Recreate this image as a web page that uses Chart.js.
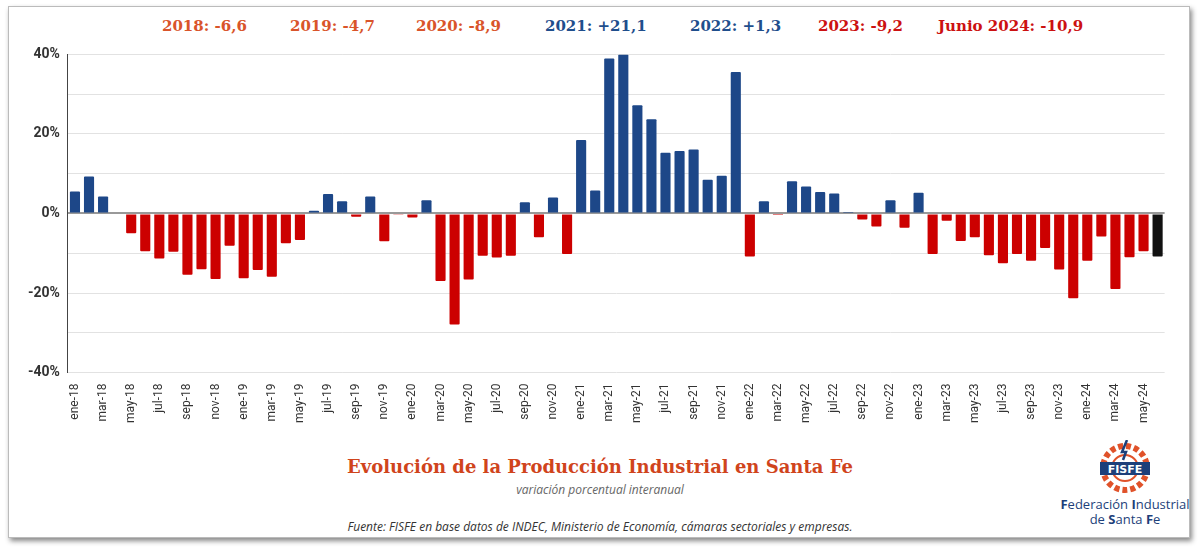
<!DOCTYPE html>
<html><head><meta charset="utf-8">
<script src="https://cdn.jsdelivr.net/npm/chart.js@4/dist/chart.umd.min.js"></script>
<style>
body{margin:0;background:#fff;font-family:"Noto Sans",sans-serif;}
#box{position:absolute;left:8px;top:6px;width:1180px;height:530px;border:1px solid #bbb;box-shadow:2px 3px 5px #888;background:#fff;}
#wrap{position:absolute;left:20px;top:38px;width:1155px;height:388px;}
.yr{position:absolute;top:17px;font:bold 15px "DejaVu Serif",serif;}
#title{position:absolute;left:0;width:1200px;top:456px;text-align:center;font:bold 18px "DejaVu Serif",serif;color:#d0441c;}
#sub{position:absolute;left:0;width:1200px;top:481px;text-align:center;font:italic 12px "Open Sans",sans-serif;color:#666;}
#src{position:absolute;left:0;width:1200px;top:518px;text-align:center;font:italic 12px "Open Sans",sans-serif;color:#333;}
#logo{position:absolute;left:1095px;top:440px;width:60px;height:56px;}
#fed{position:absolute;left:1050px;top:497px;width:150px;text-align:center;font:13px "Open Sans",sans-serif;color:#1d3f7a;line-height:15px;}
</style></head><body>
<div id="box"></div>
<div class="yr" style="left:162px;color:#d9542a">2018: -6,6</div>
<div class="yr" style="left:290px;color:#d9542a">2019: -4,7</div>
<div class="yr" style="left:416px;color:#d9542a">2020: -8,9</div>
<div class="yr" style="left:545px;color:#1f4e8c">2021: +21,1</div>
<div class="yr" style="left:690px;color:#1f4e8c">2022: +1,3</div>
<div class="yr" style="left:818px;color:#cc1111">2023: -9,2</div>
<div class="yr" style="left:938px;color:#cc1111">Junio 2024: -10,9</div>
<div id="wrap"><canvas id="c"></canvas></div>
<div id="title">Evolución de la Producción Industrial en Santa Fe</div>
<div id="sub">variación porcentual interanual</div>
<div id="src">Fuente: FISFE en base datos de INDEC, Ministerio de Economía, cámaras sectoriales y empresas.</div>
<svg id="logo" viewBox="0 0 60 56">
<circle cx="30" cy="28" r="22" fill="none" stroke="#e0522a" stroke-width="6" stroke-dasharray="5 3"/>
<circle cx="30" cy="28" r="13" fill="none" stroke="#e0522a" stroke-width="2"/>
<rect x="5" y="22" width="50" height="13" fill="#1d3f7a"/>
<text x="30" y="33" text-anchor="middle" font-family="DejaVu Sans" font-weight="bold" font-size="11" fill="#fff">FISFE</text>
<path d="M32 0 L27 12 L31 12 L28 20" stroke="#1d3f7a" stroke-width="2.5" fill="none"/>
</svg>
<div id="fed"><b>F</b>ederación <b>I</b>ndustrial<br>de <b>S</b>anta <b>F</b>e</div>
<script>
var meses = ['ene','feb','mar','abr','may','jun','jul','ago','sep','oct','nov','dic'];
var labels = [];
for (var y = 18; y <= 24; y++) {
    for (var m = 0; m < 12; m++) {
        if (y === 24 && m > 5) break;
        labels.push(meses[m] + '-' + y);
    }
}
var valores = [
    5.5, 9.3, 4.3, 0, -5.0, -9.5, -11.3, -9.6, -15.4, -14.0, -16.5, -8.1,
    -16.3, -14.2, -15.9, -7.5, -6.7, 0.7, 4.9, 3.1, -0.8, 4.3, -7.0, -0.2,
    -1.0, 3.3, -17.0, -27.9, -16.6, -10.6, -11.1, -10.6, 2.8, -6.0, 4.0, -10.2,
    18.5, 5.8, 39.0, 40.0, 27.2, 23.7, 15.3, 15.7, 16.1, 8.5, 9.5, 35.6,
    -10.8, 3.1, -0.4, 8.1, 6.8, 5.4, 5.0, 0.4, -1.5, -3.3, 3.3, -3.6,
    5.2, -10.2, -1.8, -6.9, -6.0, -10.5, -12.5, -10.2, -11.9, -8.7, -14.1, -21.3,
    -11.9, -5.8, -19.0, -11.0, -9.5, -10.8
];
var colores = valores.map(function (v, i) {
    if (i === valores.length - 1) return '#111111';
    return v >= 0 ? '#1d4788' : '#cc0000';
});

new Chart(document.getElementById('c'), {
    type: 'bar',
    data: {
        labels: labels,
        datasets: [{ data: valores, backgroundColor: colores, barPercentage: 0.72, categoryPercentage: 1, borderRadius: 1 }]
    },
    options: {
        responsive: true,
        maintainAspectRatio: false,
        animation: false,
        plugins: { legend: { display: false }, tooltip: { enabled: false } },
        scales: {
            y: {
                min: -40, max: 40,
                border: { display: true, color: '#444', width: 1 },
                grid: {
                    color: function (ctx) { return ctx.tick.value === 0 ? '#999' : '#e2e2e2'; },
                    lineWidth: function (ctx) { return ctx.tick.value === 0 ? 2 : 1; },
                    drawTicks: false
                },
                ticks: {
                    stepSize: 10, padding: 8, color: '#333',
                    font: { family: 'Roboto', size: 14, weight: 'bold' },
                    callback: function (v) { return v % 20 === 0 ? v + '%' : ''; }
                }
            },
            x: {
                grid: { display: false },
                border: { display: false },
                ticks: {
                    autoSkip: false, maxRotation: 90, minRotation: 90, color: '#333',
                    font: { family: 'Roboto', size: 12 },
                    callback: function (v, i) { return i % 2 === 0 ? labels[i] : ''; }
                }
            }
        }
    }
});
</script>
</body></html>
